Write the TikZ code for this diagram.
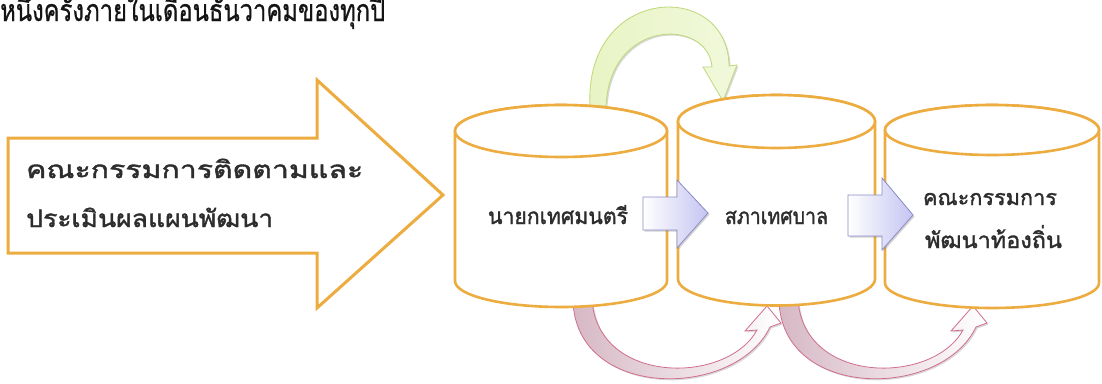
\documentclass[tikz,border=0pt]{standalone}
\usepackage{fontspec}
\newfontfamily\thaifont[Script=Thai,FakeBold=1.6]{Loma}
\newfontfamily\thaititle[Script=Thai,FakeBold=0.8]{Loma}
\usetikzlibrary{shadows}
\definecolor{orng}{RGB}{236,172,64}
\definecolor{txtgray}{RGB}{45,45,45}
\definecolor{bluefill}{RGB}{196,196,242}
\definecolor{blueline}{RGB}{140,140,200}
\definecolor{greenfill}{RGB}{232,244,196}
\definecolor{greenline}{RGB}{190,216,120}
\definecolor{pinkfill}{RGB}{214,184,196}
\definecolor{pinkline}{RGB}{210,110,140}
\newlength\thaiH
\newlength\thaiW
\newsavebox\tbx
% #1 font, #2 target width (pt), #3 target consonant height (pt), #4 text
\newcommand\fitthai[4]{%
  \settoheight\thaiH{#1\fontsize{10pt}{10pt}\selectfont น}%
  \pgfmathsetmacro\fsz{10*#3/\thaiH}%
  \sbox\tbx{#1\fontsize{\fsz pt}{\fsz pt}\selectfont #4}%
  \setlength\thaiW{\wd\tbx}%
  \pgfmathsetmacro\xsc{#2/\thaiW}%
  \scalebox{\xsc}[1]{\usebox\tbx}}
\tikzset{
  cylbody/.style={draw=orng,line width=2.6pt,fill=white,line join=round},
  bigarrow/.style={draw=orng,line width=3pt,fill=white,line join=miter},
  bluearrow/.style={draw=blueline,line width=0.8pt,left color=white,right color=bluefill,
    drop shadow={opacity=0.35,shadow xshift=1.5pt,shadow yshift=-1.5pt}},
  greenarrow/.style={draw=greenline,line width=0.8pt,left color=greenfill,right color=greenfill!60,
    drop shadow={opacity=0.3,shadow xshift=1.5pt,shadow yshift=-1.5pt}},
  pinkarrow/.style={draw=pinkline,line width=0.8pt,left color=pinkfill,right color=white,
    drop shadow={opacity=0.3,shadow xshift=1.5pt,shadow yshift=-1.5pt}},
  boxtext/.style={inner sep=0pt,anchor=base,text=txtgray},
  arrowtext/.style={inner sep=0pt,anchor=base west,text=txtgray},
}
\newcommand\drawcyl[5]{%
  \path[cylbody] (#1-#2,#3) -- (#1-#2,#4) arc[start angle=180,end angle=0,x radius=#2,y radius=#5]
    -- (#1+#2,#3) arc[start angle=0,end angle=-180,x radius=#2,y radius=#5] -- cycle;
  \draw[cylbody] (#1,#3) ellipse[x radius=#2,y radius=#5];}
\begin{document}
\begin{tikzpicture}[x=1pt,y=-1pt]
\useasboundingbox (0,0) rectangle (1102,383);
\clip (0,0) rectangle (1102,383);
\fill[white] (0,0) rectangle (1102,383);
% title line (cut at top)
\node[inner sep=0pt,anchor=base west,text=black!92] (title) at (0,21) {\fitthai{\thaititle}{385}{17}{หนึ่งครั้งภายในเดือนธันวาคมของทุกปี}};
% big arrow
\path[bigarrow] (8,138) -- (317,138) -- (317,80) -- (443,195) -- (317,308) -- (317,253) -- (8,253) -- cycle;
\node[arrowtext] (a1) at (26,178) {\fitthai{\thaifont}{337}{13.5}{คณะกรรมการติดตามและ}};
\node[arrowtext] (a2) at (26,227) {\fitthai{\thaifont}{247}{13.5}{ประเมินผลแผนพัฒนา}};
% curved arrows behind cylinders
\path[greenarrow] (590,106) .. controls (584,-15) and (728,-21) .. (729,66) -- (737,65) -- (723,101) -- (703,67) -- (712,67) .. controls (708,18) and (610,18) .. (606,106) -- cycle;
\path[pinkarrow] (573,300) .. controls (575,400) and (735,400) .. (770,327) -- (781,323) -- (767,306) -- (745,331) -- (757,330) .. controls (727,385) and (598,385) .. (592,300) -- cycle;
\begin{scope}[xshift=206pt]
\path[pinkarrow] (573,300) .. controls (575,400) and (735,400) .. (770,327) -- (781,323) -- (767,306) -- (745,331) -- (757,330) .. controls (727,385) and (598,385) .. (592,300) -- cycle;
\end{scope}
% cylinders
\drawcyl{561}{106}{131}{281}{26}
\drawcyl{776.5}{98.5}{121.5}{279}{26.5}
\drawcyl{992}{107}{130}{283}{25}
% block arrows
\path[bluearrow] (643,197) -- (677,197) -- (677,180) -- (708,213) -- (677,248) -- (677,230) -- (643,230) -- cycle;
\path[bluearrow] (848,195) -- (882,195) -- (882,178) -- (913,215) -- (882,250) -- (882,236) -- (848,236) -- cycle;
% texts
\node[boxtext] (c1) at (558,224) {\fitthai{\thaifont}{140}{12.5}{นายกเทศมนตรี}};
\node[boxtext] (c2) at (776.5,224) {\fitthai{\thaifont}{103}{12.5}{สภาเทศบาล}};
\node[boxtext] (c3a) at (990,205) {\fitthai{\thaifont}{134}{12}{คณะกรรมการ}};
\node[boxtext] (c3b) at (993.5,248) {\fitthai{\thaifont}{137}{12.5}{พัฒนาท้องถิ่น}};
\end{tikzpicture}
\end{document}
